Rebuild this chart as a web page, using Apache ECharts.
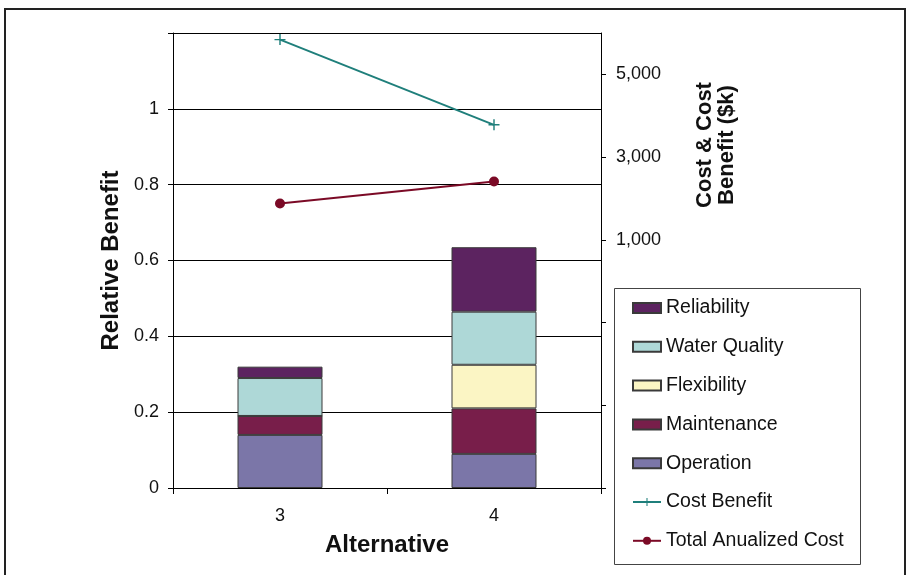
<!DOCTYPE html>
<html>
<head>
<meta charset="utf-8">
<script src="https://cdn.jsdelivr.net/npm/echarts@6/dist/echarts.min.js"></script>
<style>
  html, body { margin: 0; padding: 0; background: #fff; }
  #chart { width: 909px; height: 575px; }
</style>
</head>
<body>
<div id="chart"></div>
<script>
// Alternatives compared
const alternatives = ['3', '4'];

// Relative benefit components (stacked, bottom to top)
const operation   = [0.14, 0.09];
const maintenance = [0.05, 0.12];
const flexibility = [0.00, 0.115];
const waterQuality = [0.10, 0.14];
const reliability = [0.03, 0.17];

// Cost figures in $k (right axis)
const costBenefit = [5840, 3780];
const totalAnnualizedCost = [1880, 2410];

// Right axis tick positions and the labels shown
const rightTicks = [-5000, -3000, -1000, 1000, 3000, 5000];
const rightLabels = [1000, 3000, 5000];

const FONT = 'Liberation Sans, Arial, sans-serif';
const plusSymbol = 'path://M4.35,0h1.3v4.35h4.35v1.3h-4.35v4.35h-1.3v-4.35h-4.35v-1.3h4.35z';

const chart = echarts.init(document.getElementById('chart'), null, { renderer: 'canvas' });

function barSeries(name, data, color) {
  return {
    name: name,
    type: 'bar',
    stack: 'benefit',
    data: data,
    barWidth: 85,
    itemStyle: { color: color, borderColor: '#3a3a3a', borderWidth: 1 },
    emphasis: { disabled: true }
  };
}

const option = {
  animation: false,
  textStyle: { fontFamily: FONT },
  grid: { left: 173, right: 308, top: 33, bottom: 87, containLabel: false },
  legend: {
    orient: 'vertical',
    left: 627,
    top: 293,
    itemWidth: 28,
    itemHeight: 10,
    itemGap: 18.8,
    textStyle: { fontFamily: FONT, fontSize: 19.5, color: '#111' },
    data: [
      { name: 'Reliability', icon: 'rect' },
      { name: 'Water Quality', icon: 'rect' },
      { name: 'Flexibility', icon: 'rect' },
      { name: 'Maintenance', icon: 'rect' },
      { name: 'Operation', icon: 'rect' },
      'Cost Benefit',
      'Total Anualized Cost'
    ]
  },
  xAxis: {
    type: 'category',
    data: alternatives,
    name: 'Alternative',
    nameLocation: 'middle',
    nameGap: 45,
    nameTextStyle: { fontFamily: FONT, fontSize: 24, fontWeight: 'bold', color: '#111' },
    axisLine: { lineStyle: { color: '#000', width: 1 } },
    axisTick: { show: true, length: 6, lineStyle: { color: '#000' } },
    axisLabel: { fontFamily: FONT, fontSize: 18, color: '#111', margin: 19 }
  },
  yAxis: [
    {
      type: 'value',
      min: 0,
      max: 1.2,
      interval: 0.2,
      name: 'Relative Benefit',
      nameLocation: 'middle',
      nameGap: 50,
      nameTextStyle: { fontFamily: FONT, fontSize: 24, fontWeight: 'bold', color: '#111' },
      axisLine: { show: true, lineStyle: { color: '#000', width: 1 } },
      axisTick: { show: true, length: 5, lineStyle: { color: '#000' } },
      axisLabel: {
        fontFamily: FONT, fontSize: 18, color: '#111', margin: 14,
        formatter: function (v) {
          if (v > 1.05) return '';
          return String(Math.round(v * 10) / 10);
        }
      },
      splitLine: { show: true, lineStyle: { color: '#000', width: 1 } }
    },
    {
      type: 'value',
      min: -5000,
      max: 6000,
      position: 'right',
      axisLine: { show: true, lineStyle: { color: '#000', width: 1 } },
      axisTick: { show: true, length: 5, customValues: rightTicks, lineStyle: { color: '#000' } },
      axisLabel: {
        fontFamily: FONT, fontSize: 18, color: '#111', margin: 15,
        customValues: rightLabels,
        formatter: function (v) { return v.toLocaleString('en-US'); }
      },
      splitLine: { show: false }
    }
  ],
  graphic: [
    {
      type: 'rect',
      shape: { x: 5, y: 9, width: 900, height: 600 },
      style: { fill: 'none', stroke: '#222', lineWidth: 2 },
      silent: true
    },
    {
      type: 'rect',
      shape: { x: 614.5, y: 288.5, width: 246, height: 276 },
      style: { fill: '#fff', stroke: '#444', lineWidth: 1 },
      z: -1,
      silent: true
    },
    {
      type: 'text',
      x: 716,
      y: 145,
      rotation: Math.PI / 2,
      style: {
        text: 'Cost & Cost\nBenefit ($k)',
        font: 'bold 22px ' + FONT,
        fill: '#111',
        align: 'center',
        verticalAlign: 'middle',
        lineHeight: 22
      },
      silent: true
    }
  ],
  series: [
    barSeries('Operation', operation, '#7b76a8'),
    barSeries('Maintenance', maintenance, '#781e4a'),
    barSeries('Flexibility', flexibility, '#fbf5c4'),
    barSeries('Water Quality', waterQuality, '#aed8d7'),
    barSeries('Reliability', reliability, '#5c2360'),
    {
      name: 'Cost Benefit',
      type: 'line',
      yAxisIndex: 1,
      data: costBenefit,
      symbol: plusSymbol,
      symbolSize: 11,
      lineStyle: { color: '#1f7f7b', width: 2 },
      itemStyle: { color: '#1f7f7b' },
      emphasis: { disabled: true },
      z: 5
    },
    {
      name: 'Total Anualized Cost',
      type: 'line',
      yAxisIndex: 1,
      data: totalAnnualizedCost,
      symbol: 'circle',
      symbolSize: 10,
      lineStyle: { color: '#7b0a26', width: 2 },
      itemStyle: { color: '#7b0a26' },
      emphasis: { disabled: true },
      z: 5
    }
  ]
};

chart.setOption(option);
</script>
</body>
</html>
